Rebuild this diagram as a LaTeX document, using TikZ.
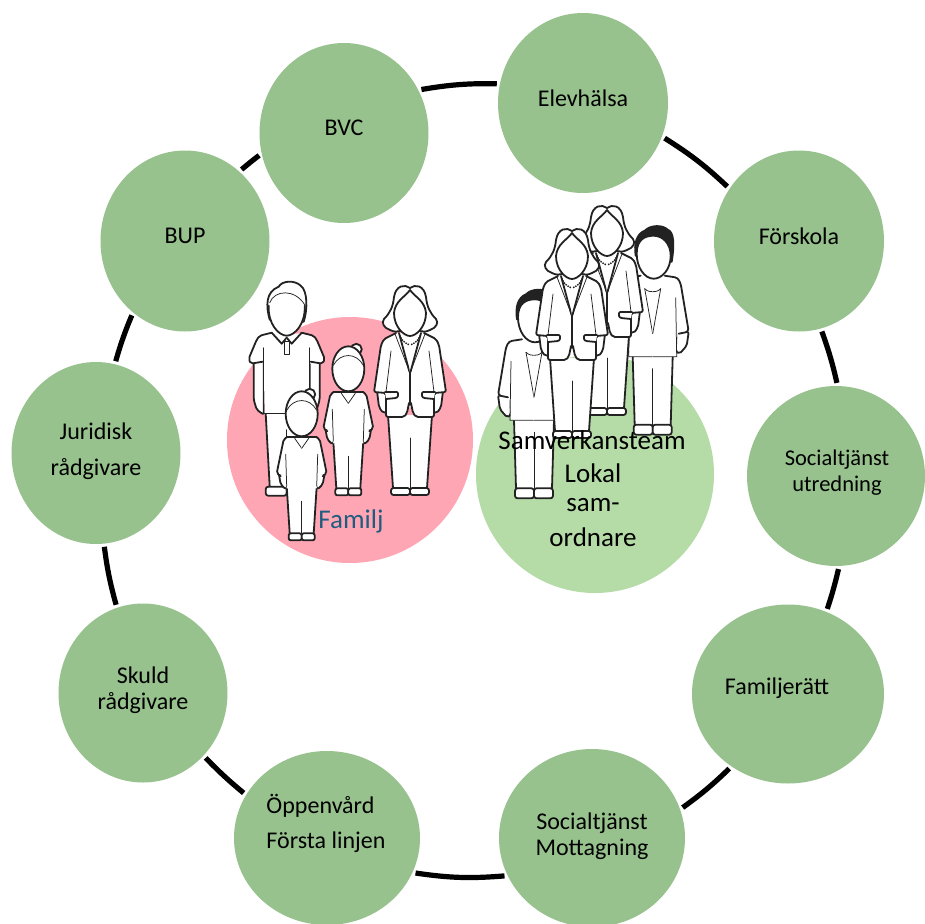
\documentclass[tikz,border=0pt]{standalone}
\usepackage{fontspec}
\setmainfont{Carlito}
\usetikzlibrary{shapes.geometric}
\definecolor{nodegreen}{HTML}{97C28D}
\definecolor{teamgreen}{HTML}{B5DCA7}
\definecolor{famred}{HTML}{FFA6B5}
\definecolor{inkc}{HTML}{222222}
\definecolor{famtext}{HTML}{1F5C80}
\newcommand{\sk}[1]{\fontsize{#1}{26}\selectfont}
\newcommand{\womanhalf}{%
  \fill[white] (-22,130)--(-17,203)--(0.4,203)--(0.4,130)--cycle;
  \draw[ol] (-22,130)--(-17,203);
  \draw[thinl] (0,153)--(0,203);
  \path[pp,rounded corners=2.5pt] (-19,203) rectangle (0,210);
  \path[pp,rounded corners=2pt] (-33,106)--(-31,122)--(-27,128)--(-22,127)--(-22,106)--cycle;
  \fill[white] (0.4,48)--(-14,48)--(-28,57)--(-36,107)--(-24,108)--(-24,132)--(-5,132)--(0.4,120)--cycle;
  \draw[ol,rounded corners=2pt] (-14,48)--(-26,54)--(-29,60)--(-36,107)--(-24,108)--(-24,132)--(-6,132)--(-3,128)--(-1,118);
  \draw[thinl] (-19,66)--(-24,107);
  \draw[ol] (-11,48)--(-0.5,87);
  \draw[thinl] (-15,49)--(-1.5,84);
  \draw[ol] (0,87)--(0,120);
  \draw[ol,fill=white,rounded corners=1.2pt] (-25,107)--(-12,107)--(-12,112)--(-14,113)--(-24,114);
  \draw[line width=2pt,inkc,dash pattern=on 0pt off 2.4pt,line cap=round] (-10,51) .. controls (-8,56) and (-4,59) .. (0,60);
}
\newcommand{\manhalf}{%
  \fill[white] (-21,130)--(-17,205)--(0.4,205)--(0.4,130)--cycle;
  \draw[ol] (-21,132)--(-17,205);
  \draw[thinl] (0,148)--(0,205);
  \path[pp,rounded corners=2.5pt] (-21,205) rectangle (0,214);
  \path[pp,rounded corners=2pt] (-33,80)--(-33,118)--(-30,128)--(-23,133)--(-23,80)--cycle;
  \fill[white] (0.4,52)--(-15,52)--(-28,55)--(-37,77)--(-35,82)--(-23,82)--(-22,132)--(0.4,132)--cycle;
  \draw[ol,rounded corners=2pt] (-15,51)--(-27,54)--(-30,58)--(-38,77)--(-36,82)--(-24,80);
  \draw[thinl] (-23,66)--(-23,132)--(0,132);
  \draw[ol,fill=white] (-15,51)--(-5,62)--(0,56);
}
\newcommand{\girlhalf}{%
  \fill[white] (-15,95)--(-12,145)--(0.4,145)--(0.4,95)--cycle;
  \draw[ol] (-15,98)--(-12,145);
  \draw[thinl] (0,113)--(0,145);
  \path[pp,rounded corners=2pt] (-13,145) rectangle (0,152);
  \path[pp,rounded corners=2pt] (-23,85)--(-21,96)--(-16,101)--(-14,98)--(-14,85)--cycle;
  \fill[white] (0.4,49)--(-15,49)--(-19,53)--(-25,85)--(-16,87)--(-15,100)--(0.4,100)--cycle;
  \draw[ol,rounded corners=2pt] (-15,49)--(-18,51)--(-25,85)--(-21,88);
  \draw[thinl] (-16,66)--(-15,98);
  \draw[ol] (-15,49)--(0,49);
  \draw[thinl] (-7,50)--(0,60);
}
\newcommand{\dmanhalf}{%
  \fill[white] (-21,128)--(-18,199)--(0.4,199)--(0.4,128)--cycle;
  \draw[ol] (-20,131)--(-18,199);
  \draw[thinl] (0,143)--(0,199);
  \path[pp,rounded corners=2.5pt] (-19,199) rectangle (0,209);
  \path[pp,rounded corners=2pt] (-36,106)--(-34,120)--(-27,128)--(-23,126)--(-24,106)--cycle;
  \fill[white] (0.4,51)--(-14,50)--(-27,53)--(-36,106)--(-25,108)--(-23,131)--(0.4,131)--cycle;
  \draw[ol,rounded corners=3pt] (-12,50)--(-25,52)--(-28,58)--(-36,106)--(-26,108);
  \draw[thinl] (-23,72)--(-24,131)--(0,131);
  \draw[thinl] (-8,63)--(0,108);
  \draw[thinl] (-8,63) .. controls (-5,66) and (-2,66) .. (0,66);
}
\tikzset{
  x=1pt,y=-1pt,
  ol/.style={draw=inkc,line width=1.8pt,line join=round,line cap=round},
  thinl/.style={draw=inkc,line width=0.75pt,line cap=round},
  pp/.style={draw=inkc,fill=white,line width=1.8pt,line join=round},
  member/.style={ellipse,fill=nodegreen,draw=none,inner sep=0pt},
  ringarc/.style={draw=black,line width=5.2pt,shorten >=3pt,shorten <=3pt},
  lbl/.style={font=\sk{24},text=black,align=center,inner sep=0pt},
  teamlbl/.style={font=\sk{27},text=black,align=center,inner sep=0pt},
  woman/.pic={
    \womanhalf \begin{scope}[xscale=-1]\womanhalf\end{scope}
    \path[pp] (0,3) .. controls (-5,-1) and (-14,0) .. (-16,12) .. controls (-17,22) and (-20,28) .. (-26,34)
      .. controls (-29,38) and (-26,43) .. (-20,45) .. controls (-16,47) and (-13,47) .. (-10,46) -- (10,46)
      .. controls (13,47) and (16,47) .. (20,45) .. controls (26,43) and (29,38) .. (26,34)
      .. controls (20,28) and (17,22) .. (16,12) .. controls (14,0) and (5,-1) .. (0,3) -- cycle;
    \path[pp] (0,5) .. controls (-5,12) and (-15,16) .. (-16,28) .. controls (-16,42) and (-6,51) .. (0,51)
      .. controls (6,51) and (16,42) .. (16,28) .. controls (15,16) and (5,12) .. (0,5) -- cycle;
  },
  polo/.pic={
    \manhalf \begin{scope}[xscale=-1]\manhalf\end{scope}
    \path[pp] (-17,38) .. controls (-21,24) and (-21,10) .. (-8,5) .. controls (-5,-1) and (8,-2) .. (14,4)
      .. controls (21,9) and (21,28) .. (17,40) -- cycle;
    \fill[white] (-18,28) .. controls (-18,6) and (18,6) .. (18,28) .. controls (18,44) and (8,54) .. (0,54)
      .. controls (-8,54) and (-18,44) .. (-18,28) -- cycle;
    \draw[ol] (-18,24) .. controls (-19,42) and (-8,54) .. (0,54) .. controls (8,54) and (19,42) .. (18,24);
    \draw[thinl] (-17,21) .. controls (-12,8) and (8,7) .. (18,23);
    \path[pp,line width=1.2pt] (-2.5,60) rectangle (2.5,73);
  },
  girl/.pic={
    \girlhalf \begin{scope}[xscale=-1]\girlhalf\end{scope}
    \path[pp] (8,6) circle[radius=5.5];
    \path[pp] (0,25.5) ellipse[x radius=16,y radius=22.5];
    \draw[thinl] (-15,22) .. controls (-8,9) and (8,9) .. (15,22);
  },
  dman/.pic={
    \dmanhalf \begin{scope}[xscale=-1]\dmanhalf\end{scope}
    \path[pp,fill=inkc] (-17,30) .. controls (-19,18) and (-16,8) .. (-8,5) .. controls (-2,-1) and (10,-1) .. (15,4)
      .. controls (21,6) and (22,18) .. (19,36) -- cycle;
    \path[pp] (-16,28) .. controls (-16,14) and (-8,10) .. (1,10) .. controls (10,10) and (18,18) .. (18,30)
      .. controls (18,44) and (9,53) .. (1,53) .. controls (-8,53) and (-16,42) .. (-16,28) -- cycle;
  },
}
\begin{document}
\begin{tikzpicture}
\useasboundingbox (0,0) rectangle (924,924);
\fill[white] (0,0) rectangle (924,924);
\node[circle,fill=famred,inner sep=0pt,minimum size=246pt] (family) at (350,440) {};
\node[circle,fill=teamgreen,inner sep=0pt,minimum size=238pt] (team) at (595,474) {};
% members
\node[member,minimum width=170pt,minimum height=180pt] (elev) at (583,103) {};
\node[member,minimum width=170pt,minimum height=181pt] (forskola) at (799,241) {};
\node[member,minimum width=178pt,minimum height=180pt] (utred) at (836,476) {};
\node[member,minimum width=192pt,minimum height=179pt] (famratt) at (788,694) {};
\node[member,minimum width=186pt,minimum height=178pt] (mott) at (592,838) {};
\node[member,minimum width=186pt,minimum height=174pt] (oppen) at (327,838) {};
\node[member,minimum width=169pt,minimum height=179pt] (skuld) at (143,693) {};
\node[member,minimum width=169pt,minimum height=182pt] (jur) at (96,453) {};
\node[member,minimum width=169pt,minimum height=181pt] (bup) at (185,241) {};
\node[member,minimum width=169pt,minimum height=180pt] (bvc) at (344,133) {};
% ring
\draw[ringarc] (bvc.30.7) to[bend left=5.3] (elev.167);
\draw[ringarc] (elev.-23.8) to[bend left=5.6] (forskola.143);
\draw[ringarc] (forskola.-76) to[bend left=3.5] (utred.89);
\draw[ringarc] (utred.-88) to[bend left=2.6] (famratt.65);
\draw[ringarc] (famratt.232.6) to[bend left=4.2] (mott.18);
\draw[ringarc] (mott.204) to[bend left=6.6] (oppen.-22);
\draw[ringarc] (oppen.152) to[bend left=3.1] (skuld.-46.8);
\draw[ringarc] (skuld.107) to[bend left=4.1] (jur.-85.7);
\draw[ringarc] (jur.78.7) to[bend left=3.4] (bup.234);
\draw[ringarc] (bup.52.5) to[bend left=1.5] (bvc.194);
% people
\pic at (286.7,281.7) {polo};
\pic at (410,285) {woman};
\pic at (348.3,343.3) {girl};
\pic at (301.7,388.3) {girl};
\pic at (652.7,225.7) {dman};
\pic at (607,205) {woman};
\pic at (534,289.3) {dman};
\pic at (572,228) {woman};
% labels
\node[lbl] (t1) at (583,98) {Elevhälsa};
\node[lbl] (t2) at (799,236) {Förskola};
\node[lbl,font=\sk{22.5}] (t3) at (837,473) {Socialtjänst\\utredning};
\node[lbl] (t4) at (777,688) {Familjerätt};
\node[lbl] (t5) at (592,836) {Socialtjänst\\Mottagning};
\node[lbl,align=left] (t6) at (326,823) {Öppenvård\\[9pt]Första linjen};
\node[lbl] (t7) at (143,690) {Skuld\\rådgivare};
\node[lbl] (t8) at (96,451) {Juridisk\\[10pt]rådgivare};
\node[lbl] (t9) at (185,236) {BUP};
\node[lbl] (t10) at (344,128) {BVC};
\node[teamlbl,text=famtext] (t11) at (351,521) {Familj};
\node[teamlbl] (t12) at (592,440) {Samverkansteam};
\node[teamlbl] (t13) at (593,473) {Lokal};
\node[teamlbl] (t14) at (593,505) {sam-};
\node[teamlbl] (t15) at (593,537) {ordnare};
\end{tikzpicture}
\end{document}
